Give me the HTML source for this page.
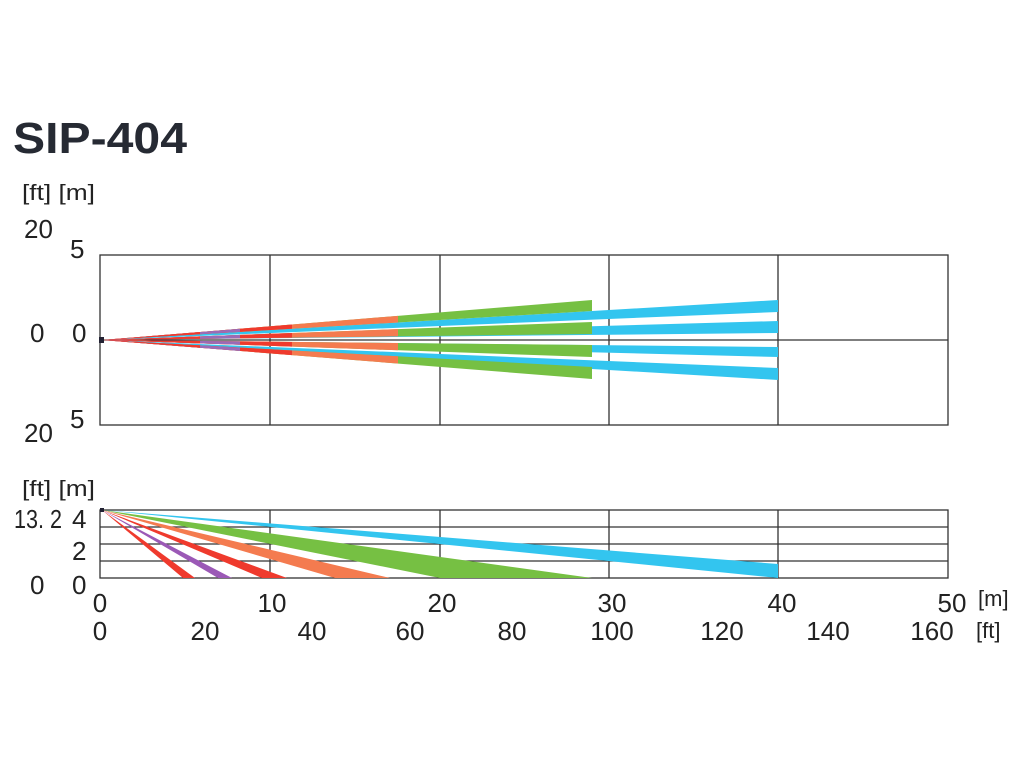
<!DOCTYPE html>
<html><head><style>
body{margin:0;background:#fff;width:1024px;height:768px;overflow:hidden}
svg text{font-family:"Liberation Sans",sans-serif;fill:#222}
</style></head><body>
<svg width="1024" height="768" viewBox="0 0 1024 768">
<defs>
<clipPath id="co"><rect x="0" y="0" width="398" height="768"/></clipPath>
<clipPath id="cr"><rect x="0" y="0" width="292" height="768"/></clipPath>
<clipPath id="cp"><rect x="0" y="0" width="240" height="768"/></clipPath>
<clipPath id="cr2"><rect x="0" y="0" width="200" height="768"/></clipPath>
<g id="gb">
<polygon points="102,340 592,300 592,311"/>
<polygon points="102,340 592,322 592,334"/>
<polygon points="102,340 592,345 592,357"/>
<polygon points="102,340 592,367 592,379"/>
</g>
</defs>
<text x="13" y="153" textLength="174" lengthAdjust="spacingAndGlyphs" style="font-weight:bold;font-size:44px;fill:#262a33">SIP-404</text>
<text x="22" y="200" font-size="22" textLength="73" lengthAdjust="spacingAndGlyphs">[ft] [m]</text>
<text x="24" y="238" font-size="26">20</text>
<text x="70" y="258" font-size="26">5</text>
<text x="30" y="342" font-size="26">0</text>
<text x="72" y="342" font-size="26">0</text>
<text x="70" y="428" font-size="26">5</text>
<text x="24" y="442" font-size="26">20</text>
<g stroke="#333" stroke-width="1.3" fill="none">
<rect x="100" y="255" width="848" height="170"/>
<line x1="270" y1="255" x2="270" y2="425"/><line x1="440" y1="255" x2="440" y2="425"/>
<line x1="609" y1="255" x2="609" y2="425"/><line x1="778" y1="255" x2="778" y2="425"/>
<line x1="100" y1="340" x2="948" y2="340"/>
</g>
<g fill="#33c5ef">
<polygon points="102,340 778,300 778,312"/>
<polygon points="102,340 778,321 778,333"/>
<polygon points="102,340 778,347 778,357"/>
<polygon points="102,340 778,368 778,380"/>
</g>
<use href="#gb" fill="#76c043"/>
<use href="#gb" fill="#f47b4f" clip-path="url(#co)"/>
<use href="#gb" fill="#ef3a2d" clip-path="url(#cr)"/>
<use href="#gb" fill="#9b6bb6" clip-path="url(#cp)"/>
<use href="#gb" fill="#ef3a2d" clip-path="url(#cr2)"/>
<rect x="99" y="337" width="5" height="6" fill="#223"/>
<text x="22" y="496" font-size="22" textLength="73" lengthAdjust="spacingAndGlyphs">[ft] [m]</text>
<text x="14" y="528" font-size="26" textLength="48" lengthAdjust="spacingAndGlyphs">13. 2</text>
<text x="72" y="528" font-size="26">4</text>
<text x="72" y="560" font-size="26">2</text>
<text x="30" y="594" font-size="26">0</text>
<text x="72" y="594" font-size="26">0</text>
<g stroke="#333" stroke-width="1.3" fill="none">
<rect x="100" y="510" width="848" height="68"/>
<line x1="100" y1="527" x2="948" y2="527"/><line x1="100" y1="544" x2="948" y2="544"/><line x1="100" y1="561" x2="948" y2="561"/>
<line x1="270" y1="510" x2="270" y2="578"/><line x1="440" y1="510" x2="440" y2="578"/>
<line x1="609" y1="510" x2="609" y2="578"/><line x1="778" y1="510" x2="778" y2="578"/>
</g>
<polygon points="102,510 778,564 778,578" fill="#33c5ef"/>
<polygon points="102,510 592,578 440,578" fill="#76c043"/>
<polygon points="102,510 390,578 335,578" fill="#f47b4f"/>
<polygon points="102,510 287,578 262,578" fill="#ef3a2d"/>
<polygon points="102,510 232,578 218,578" fill="#9b59b6"/>
<polygon points="102,510 195,578 183,578" fill="#ef3a2d"/>
<rect x="100" y="508" width="4" height="4" fill="#223"/>
<g font-size="26" text-anchor="middle">
<text x="100" y="612">0</text><text x="272" y="612">10</text><text x="442" y="612">20</text>
<text x="612" y="612">30</text><text x="782" y="612">40</text><text x="952" y="612">50</text>
<text x="100" y="640">0</text><text x="205" y="640">20</text><text x="312" y="640">40</text>
<text x="410" y="640">60</text><text x="512" y="640">80</text><text x="612" y="640">100</text>
<text x="722" y="640">120</text><text x="828" y="640">140</text><text x="932" y="640">160</text>
</g>
<text x="978" y="606" font-size="22">[m]</text>
<text x="976" y="638" font-size="22">[ft]</text>
</svg>
</body></html>
